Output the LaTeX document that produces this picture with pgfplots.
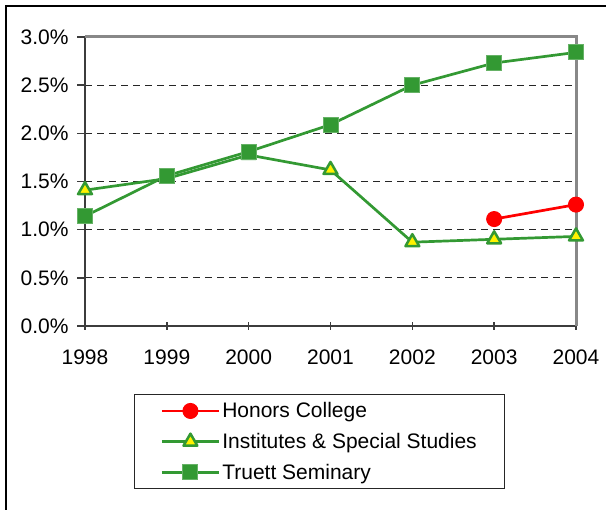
\documentclass[border=0pt]{standalone}
\usepackage{fontspec}
\setmainfont{Liberation Sans}
\usepackage{pgfplots}
\pgfplotsset{compat=1.18}
\definecolor{xlgreen}{RGB}{51,153,51}
\definecolor{xlframe}{RGB}{136,136,136}
\definecolor{xlaxis}{RGB}{60,60,60}

\begin{document}
\begin{tikzpicture}[x=1pt,y=1pt,font=\fontsize{21}{25}\selectfont]
\useasboundingbox (0,0) rectangle (606,510);
\draw[line width=1.5pt] (6,0) -- (6,504) -- (606,504);
\begin{axis}[
    at={(85pt,184pt)}, anchor=south west,
    scale only axis, width=491pt, height=289pt,
    xmin=1998, xmax=2004, ymin=0, ymax=3,
    clip=false,
    axis x line*=bottom, axis y line*=left,
    axis line style={xlaxis, line width=2pt},
    xtick={1998,1999,2000,2001,2002,2003,2004},
    ytick={0,0.5,1,1.5,2,2.5,3},
    major tick length=8pt,
    xtick align=center, ytick align=outside,
    tick style={xlaxis, line width=1.5pt},
    /pgf/number format/assume math mode=true,
    xticklabel={\pgfmathprintnumber[1000 sep={}]{\tick}},
    yticklabel={\pgfmathprintnumber[fixed,fixed zerofill,precision=1]{\tick}\%},
    xticklabel style={yshift=-16pt},
    yticklabel style={xshift=-5pt},
    ymajorgrids,
    major grid style={black!85, line width=1.2pt, dash pattern=on 7pt off 5pt},
    legend cell align=left,
    legend style={at={(axis description cs:0.0998,-0.2353)}, anchor=north west,
        draw=black!85, line width=1.2pt, inner xsep=26pt, inner ysep=6pt,
        row sep=10pt},
    legend image code/.code={\draw[mark repeat=2,mark phase=2]
        plot coordinates {(0pt,0pt)(28.5pt,0pt)(57pt,0pt)};},
]
\draw[xlframe, line width=3pt] (rel axis cs:0,1) -- (rel axis cs:1,1) -- (rel axis cs:1,0);

% Honors College
\addplot[red, line width=2.7pt, mark=*, mark size=7.5pt,
    mark options={fill=red, draw=red, line width=1pt}]
    coordinates {(2003,1.11) (2004,1.26)};
\addlegendentry{Honors College}

% Institutes & Special Studies
\addplot[xlgreen, line width=2.7pt, mark=triangle*, mark size=8pt,
    mark options={fill=yellow, draw=xlgreen, line width=2.5pt, line join=round}]
    coordinates {(1998,1.41) (1999,1.53) (2000,1.775) (2001,1.62)
                 (2002,0.87) (2003,0.90) (2004,0.93)};
\addlegendentry{Institutes \& Special Studies}

% Truett Seminary
\addplot[xlgreen, line width=2.7pt, mark=square*, mark size=7.5pt,
    mark options={fill=xlgreen, draw=xlgreen!75!white, line width=1pt}]
    coordinates {(1998,1.14) (1999,1.56) (2000,1.81) (2001,2.09)
                 (2002,2.50) (2003,2.73) (2004,2.84)};
\addlegendentry{Truett Seminary}
\end{axis}
\end{tikzpicture}
\end{document}
